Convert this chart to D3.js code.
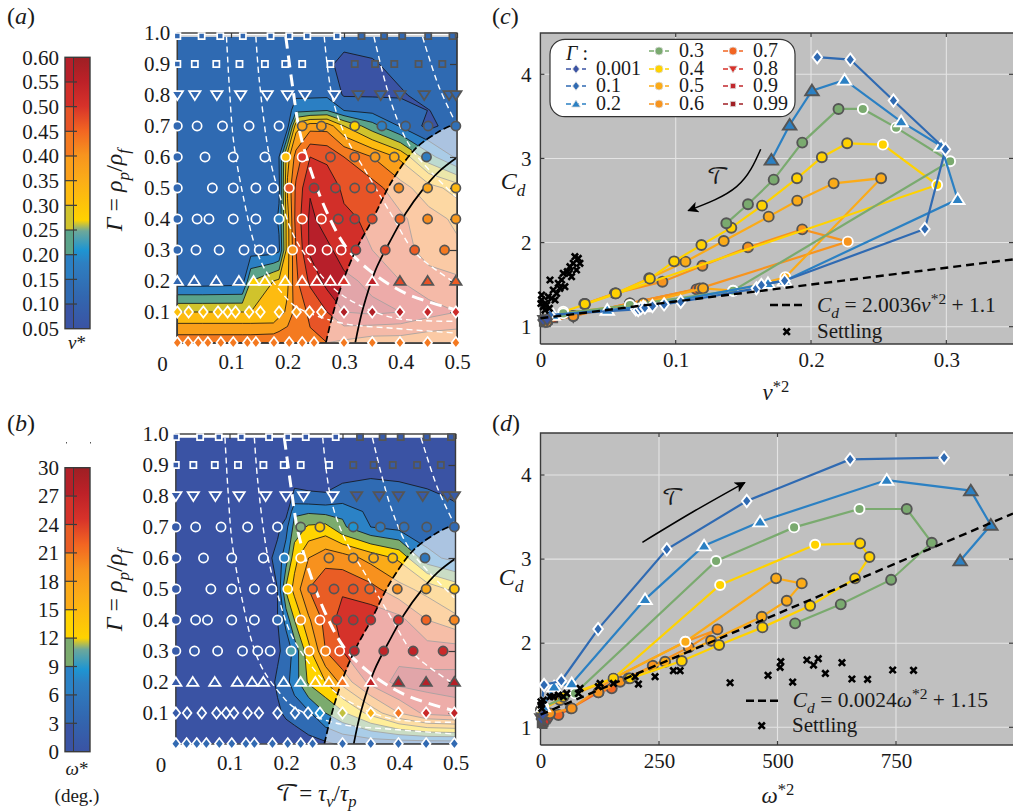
<!DOCTYPE html>
<html>
<head>
<meta charset="utf-8">
<title>Drag and rise velocity maps</title>
<script src="https://cdn.jsdelivr.net/npm/d3@7/dist/d3.min.js"></script>
<style>
  html, body { margin: 0; padding: 0; background: #fff; }
  svg { display: block; }
  text { font-family: "Liberation Serif", serif; fill: #1a1a1a; }
</style>
</head>
<body>
<svg id="fig" width="1013" height="811"></svg>
<script>
// ---- contour grids (a: v*, b: omega*) ----
const gridT = [.005,.05,.12,.135,.175,.185,.2,.215,.24,.27,.3,.35,.4,.45,.5];
const gridG = [.001,.1,.2,.3,.4,.5,.6,.7,.75,.8,.9,.99];
const gridV = [
  [.435,.435,.435,.435,.44,.44,.445,.44,.44,.45,.44,.42,.42,.41,.41],
  [.30,.30,.30,.30,.30,.33,.36,.42,.46,.50,.55,.56,.55,.52,.50],
  [.12,.12,.125,.25,.30,.31,.34,.44,.51,.57,.56,.54,.50,.47,.46],
  [.12,.12,.12,.125,.125,.14,.33,.45,.56,.56,.53,.50,.47,.43,.41],
  [.12,.12,.12,.12,.125,.16,.33,.47,.56,.53,.51,.49,.46,.42,.39],
  [.12,.12,.12,.12,.12,.14,.36,.46,.545,.53,.49,.47,.42,.37,.33],
  [.12,.12,.12,.12,.12,.15,.33,.42,.50,.49,.45,.40,.34,.22,.14],
  [.12,.12,.12,.12,.12,.12,.13,.33,.38,.38,.30,.22,.145,.085,.13],
  [.12,.12,.12,.12,.12,.12,.12,.185,.19,.20,.15,.135,.12,.099,.12],
  [.12,.12,.12,.12,.12,.12,.12,.14,.14,.14,.095,.095,.095,.115,.12],
  [.12,.12,.12,.12,.12,.12,.12,.12,.12,.11,.085,.095,.115,.12,.12],
  [.12,.12,.12,.12,.12,.12,.12,.12,.12,.12,.12,.12,.12,.12,.12]
];
const gridW = [
  [1,1,1,1,1,1,1,1.5,2,2.5,3.5,4,4,4,4],
  [1.5,1.5,1.5,1.5,2,2.5,3.5,4,5.5,9,11.5,16,21,25,26],
  [1.5,1.5,1.5,1.5,2.5,3.5,5,7.5,12.5,15,19,25,28,28,28],
  [1,1,1,1,1.5,2.5,4,7,14,21,24,27,26,25.5,25.5],
  [1.5,1.5,1.5,1.5,1.5,3,7,12,17.5,22,25.5,26,25,21,19],
  [1.5,1.5,1.5,1.5,1.5,3,12.5,16,21,23,23.5,22,19,17,14],
  [1.5,1.5,1.5,1.5,3,4.5,7.5,14,18,20,19.5,17,14.5,7,5],
  [1.5,1.5,1.5,1.5,1.5,2,5,10,12.5,13,9.5,6,5,4,3.5],
  [1.5,1.5,1.5,1.5,1.5,1.5,1.5,8.5,8.5,8,8.5,5,4.2,3.8,3.3],
  [1.5,1.5,1.5,1.5,1.5,1.5,1.5,3.5,3.3,3.2,3.7,3.9,3.6,3.3,2.8],
  [1.5,1.5,1.5,1.5,1.5,1.5,1.5,1.5,1.5,1.5,2,2.3,2.3,2,1.5],
  [1,1,1,1,1,1,1,1,1,1,1,1,1,1,1]
];
const levelsV = [.05,.10,.15,.20,.25,.30,.35,.40,.45,.50,.55];
const levelsW = [0,3,6,9,12,15,18,21,24,27];
const bandsV = ["#3a53a4","#2f6ab2","#2b7fc3","#5aa38a","#d0c32c","#fdbb10","#fa9f1a","#f47a20","#e75427","#d22f29","#b71f2a"];
const bandsW = ["#3a53a4","#2f6bb3","#2b82c6","#7bab6e","#ffd400","#fbab18","#f7911e","#e95d25","#d5322a","#b52028"];
const rampStops = [0,.12,.24,.29,.36,.40,.55,.64,.73,.82,.91,1];
const rampColors = ["#3a53a4","#3267b0","#2e7fc1","#1e95d2","#6da89a","#ffd200","#fbac18","#f7941e","#f26522","#d7322a","#bd2128","#9e1f24"];

// ---- experiments in the (T, Gamma) plane ----
const rowG = [.99,.9,.8,.7,.6,.5,.4,.3,.2,.1,.001];
const rowShape = ["square","square","triDown","circle","circle","circle","circle","circle","triUp","diamond","diamond"];
const rowDarkFrom = [8,8,8,5,6,6,8,10,12,99,99];
const rowT = [
  [.005,.048,.081,.121,.170,.203,.235,.288,.331,.371,.403,.449,.492],
  [.005,.036,.074,.115,.160,.196,.226,.276,.319,.355,.389,.432,.474],
  [.005,.036,.075,.117,.164,.200,.231,.283,.325,.365,.399,.442,.486,.498],
  [.005,.040,.085,.132,.185,.226,.260,.319,.367,.409,.449,.498],
  [.005,.054,.104,.160,.197,.226,.276,.319,.355,.389,.446],
  [.005,.067,.104,.144,.175,.203,.247,.285,.319,.348,.397,.448,.498],
  [.005,.040,.061,.104,.144,.185,.226,.260,.290,.319,.350,.399,.448,.498],
  [.005,.038,.079,.123,.150,.172,.209,.241,.270,.295,.321,.373,.425,.478],
  [.005,.035,.074,.114,.140,.160,.196,.226,.252,.276,.300,.350,.399,.448,.498],
  [.005,.025,.051,.077,.094,.108,.132,.152,.185,.216,.239,.260,.300,.350,.399,.448,.498],
  [.005,.024,.042,.059,.082,.104,.129,.144,.176,.203,.226,.247,.300,.350,.399,.448,.498]
];
const rowV = [
  [.12,.12,.12,.12,.12,.12,.12,.12,.12,.12,.12,.12,.12],
  [.12,.12,.12,.12,.12,.12,.12,.12,.12,.12,.12,.12,.12],
  [.12,.12,.12,.12,.12,.12,.12,.12,.12,.12,.12,.12,.12,.12],
  [.12,.12,.12,.12,.12,.37,.38,.27,.18,.14,.12,.14],
  [.12,.12,.12,.12,.31,.50,.47,.44,.39,.35,.17],
  [.12,.12,.12,.12,.12,.47,.53,.50,.47,.46,.41,.37,.33],
  [.12,.12,.12,.12,.12,.18,.47,.49,.50,.51,.48,.45,.41,.39],
  [.12,.12,.12,.12,.12,.12,.40,.52,.52,.52,.51,.48,.46,.43],
  [.12,.12,.12,.12,.27,.29,.31,.47,.52,.53,.50,.55,.48,.47,.46],
  [.31,.31,.31,.31,.31,.31,.31,.31,.33,.38,.42,.43,.57,.57,.56,.54,.52],
  [.43,.43,.43,.43,.43,.43,.43,.43,.43,.43,.43,.43,.43,.43,.43,.43,.43]
];
const rowW = [
  [1.5,1.5,1.5,1.5,1.5,1.5,1.5,1.5,1.5,1.5,1.5,1.5,1.5],
  [1.5,1.5,1.5,1.5,1.5,1.5,1.5,1.5,1.5,1.5,1.5,1.5,1.5],
  [1.5,1.5,1.5,1.5,1.5,1.5,1.5,1.5,1.5,1.5,1.5,1.5,1.5,1.5],
  [1.5,1.5,1.5,1.5,1.5,11,13,8.5,6,5,4.5,4],
  [1.5,1.5,1.5,1.5,7.5,17,19,18,16,14,6],
  [1.5,1.5,1.5,1.5,1.5,13,22,23,23,22,19.5,17,14],
  [1.5,1.5,1.5,1.5,1.5,4,19,22,26,26,26,25,22,20],
  [1.5,1.5,1.5,1.5,1.5,2,10,18,20,23,27,27,27,26],
  [1.5,1.5,1.5,1.5,1.5,2,5,10,14,17,21,27,28,28,28],
  [1.5,1.5,1.5,1.5,1.5,1.5,1.5,1.5,2.5,4.5,5.5,8.5,11.5,16,21,26,27],
  [4,4,4,4,4,4,4,4,4,4,4,4,4,4,4,4,4]
];

// curves over the maps, as [T, Gamma]
const blackDashT = [.268,.279,.297,.321,.350,.386,.427,.468,.498];
const blackDashG = [.001,.085,.193,.300,.397,.526,.628,.682,.709];
const blackSolidT = [.320,.333,.356,.386,.409,.439,.468,.498];
const blackSolidG = [.001,.107,.236,.343,.418,.494,.553,.596];
const whiteCurves = [
  {t:[.092,.097,.105,.123,.141,.159,.191,.215,.297,.391,.498], g:[.988,.827,.644,.461,.322,.241,.160,.117,.064,.047,.032]},
  {t:[.144,.150,.167,.185,.209,.238,.285,.333,.391,.498], g:[.988,.848,.612,.483,.354,.268,.171,.117,.080,.070]},
  {t:[.197,.209,.221,.241,.268,.303,.344,.409,.498], g:[.988,.827,.687,.558,.429,.311,.236,.160,.107], thick:true},
  {t:[.265,.279,.303,.344,.386,.427,.498], g:[.988,.795,.666,.537,.408,.289,.193]},
  {t:[.353,.386,.421,.498], g:[.988,.762,.623,.472]},
  {t:[.439,.468,.498], g:[.988,.827,.709]}
];

// ---- C_d scatter series ----
const seriesNames = ["0.001","0.1","0.2","0.3","0.4","0.5","0.6","0.7","0.8","0.9","0.99"];
const seriesColors = ["#3a53a4","#2f6ab2","#2b80c3","#7aaa6f","#ffd200","#fbab18","#f7941e","#f26522","#d7322a","#c1272d","#a01f24"];
const seriesShapes = ["diamond","diamond","triUp","circle","circle","circle","circle","circle","triDown","square","square"];

const cV = [
  [.002,.005],
  [.007,.0705,.0723,.0742,.0772,.0828,.0914,.1037,.1596,.1633,.1805,.2841,.2993,.2609,.229,.2046],
  [.0095,.0494,.076,.1682,.1805,.3084,.2961,.2666,.2248,.2007,.1842,.1707],
  [.0169,.0661,.1424,.3028,.2629,.2383,.2203,.1935,.1724,.1534,.1374],
  [.0169,.2932,.2531,.2267,.208,.1896,.1638,.1411,.119,.0988,.0809,.0558,.0329],
  [.0169,.0759,.1202,.1424,.181,.2518,.2167,.1898,.1687,.1355,.1072,.0804,.0558,.0329],
  [.0046,.0243,.0661,.1178,.2272,.1935,.1534,.1197,.0902,.055,.0324],
  [.0046,.0243,.0661,.1153,.1202],
  [.0034,.0071,.0243],
  [.0034,.01],
  [.002,.006]
];
const cCd = [
  [1.08,1.09],
  [1.14,1.206,1.198,1.218,1.226,1.246,1.266,1.297,1.456,1.495,1.547,2.161,3.109,3.688,4.175,4.203],
  [1.139,1.198,1.238,1.515,1.547,2.514,3.148,3.438,3.933,3.806,3.398,2.982],
  [1.158,1.258,1.428,2.966,3.366,3.588,3.588,3.188,2.748,2.455,2.229],
  [1.178,2.685,3.164,3.18,3.014,2.764,2.439,2.177,1.971,1.777,1.571,1.396,1.27],
  [1.158,1.277,1.456,1.428,1.587,2.764,2.704,2.498,2.308,2.019,1.773,1.575,1.396,1.27],
  [1.059,1.127,1.277,1.456,2.011,2.157,1.943,1.725,1.535,1.396,1.27],
  [1.059,1.127,1.277,1.444,1.456],
  [1.071,1.079,1.127],
  [1.06,1.09],
  [1.05,1.07]
];
const cDark = ["dd","wwwwwwwwwwwwwwww","wwwwwwwwwddd","wwwwwwddddd","wwwdddddddddd","dddwwddddddddd","ddddwdddddd","ddddd","ddd","dd","dd"];

const dW = [
  [2,5],
  [2.6,7.5,44,121.5,266.4,435.1,653.2,851.5],
  [6,28.6,65.9,220.6,345.1,463.3,730.5,907.8,950,885.3],
  [6,72.9,370.4,535,672.9,772.7,825.5,739.7,633.5,537.1],
  [1,48.3,153.8,378.9,579.3,674.3,694,663.7,568.8,468.2,376.8,298,189],
  [1,41.3,153.8,305.7,497,551.2,519.5,466.8,359.9,262.8,185.5],
  [20,65.9,153.8,305.7,373.3,312.8,236.8,167.9,122.2],
  [37.8,63.8,122.2,150.3],
  [3,9.6,14,20],
  [2,6,10,13],
  [1,4,6,8]
];
const dCd = [
  [1.1,1.15],
  [1.284,1.503,1.554,2.168,3.116,3.691,4.186,4.206],
  [1.245,1.483,1.522,2.521,3.159,3.445,3.94,3.814,3.405,2.981],
  [1.245,1.403,2.977,3.377,3.596,3.596,3.195,2.755,2.462,2.236],
  [1.205,1.364,1.582,2.692,3.171,3.187,3.025,2.771,2.446,2.188,1.978,1.788,1.582],
  [1.205,1.324,1.582,2.018,2.771,2.711,2.505,2.315,2.03,1.78,1.582],
  [1.166,1.225,1.582,2.018,2.164,1.95,1.732,1.542,1.415],
  [1.146,1.225,1.415,1.463],
  [1.1,1.106,1.09,1.126],
  [1.07,1.094,1.08,1.12],
  [1.04,1.066,1.03,1.05]
];
const dDark = ["dd","wwwwwwww","wwwwwwwddd","wwwwwddddd","dddwwdddddddd","ddwwddddddd","ddwwddddd","dddd","dddd","dddd","dddd"];

const settleCV = [.0009,.0021,.0046,.0058,.0034,.0083,.0095,.0071,.012,.0132,.0157,.0169,.0181,.0199,.0218,.023,.0243,.0255,.028,.0292,.0267,.0213,.0144,.0108,.0066,.0009,.0034,.0004];
const settleCCd = [1.317,1.238,1.258,1.357,1.277,1.337,1.436,1.555,1.396,1.515,1.555,1.634,1.476,1.654,1.713,1.595,1.753,1.832,1.812,1.753,1.674,1.634,1.456,1.317,1.218,1.377,1.198,1.277];
const settleDW = [400,480,505.5,507,532,562,576,586,601,636,657,690,743,787,294.5,280.4,241.7,206.6,199.5,153.8,125.7,122,83.5,80,55.4,48.3,20.2,6,1,1,2.6,27.2,37.8];
const settleDCd = [1.53,1.618,1.713,1.78,1.538,1.8,1.74,1.816,1.641,1.768,1.574,1.57,1.681,1.677,1.673,1.673,1.602,1.514,1.602,1.522,1.522,1.483,1.463,1.403,1.403,1.364,1.364,1.324,1.265,1.304,1.225,1.364,1.384];

const svg = d3.select("#fig");
const defs = svg.append("defs");
const frameColor = "#3b3b3b", darkEdge = "#555555";
const ramp = d3.scaleLinear().domain(rampStops).range(rampColors).clamp(true);

function rich(parent, x, y, parts, size, anchor) {
  const t = parent.append("text").attr("x", x).attr("y", y)
    .attr("font-size", size).attr("text-anchor", anchor || "start");
  let shift = 0;
  parts.forEach(p => {
    const s = t.append("tspan").text(p.t);
    if (p.i) s.attr("font-style", "italic");
    if (p.font) s.attr("font-family", p.font);
    let target = p.sub ? size * 0.28 : p.sup ? -size * 0.36 : 0;
    if (target !== shift) { s.attr("dy", target - shift); shift = target; }
    if (p.sub || p.sup) s.attr("font-size", size * 0.72);
  });
  return t;
}

const symbolPath = {
  circle: r => d3.symbol(d3.symbolCircle, Math.PI * r * r)(),
  square: r => d3.symbol(d3.symbolSquare, r * r * 2.4)(),
  diamond: r => `M0,${-r * 1.28}L${r * 1.0},0L0,${r * 1.28}L${-r * 1.0},0Z`,
  triUp: r => `M0,${-r * 1.15}L${r * 1.3},${r * 0.9}L${-r * 1.3},${r * 0.9}Z`,
  triDown: r => `M0,${r * 1.15}L${r * 1.3},${-r * 0.9}L${-r * 1.3},${-r * 0.9}Z`
};

function styleAxis(g, size) {
  g.select(".domain").remove();
  g.selectAll("line").attr("stroke", frameColor).attr("stroke-width", 1.2);
  g.selectAll("text").attr("font-size", size).attr("fill", "#1a1a1a")
    .attr("font-family", "Liberation Serif, serif");
}

// ---- colorbars ----
function colorbar(top, bottom, domain, levels, bands, fmt) {
  const g = svg.append("g");
  const y = d3.scaleLinear().domain(domain).range([bottom, top]);
  const edges = levels.concat([domain[1]]);
  bands.forEach((c, i) => {
    g.append("rect").attr("x", 65).attr("width", 8.5)
      .attr("y", y(edges[i + 1])).attr("height", y(edges[i]) - y(edges[i + 1])).attr("fill", c);
  });
  const id = "grad" + top;
  const lg = defs.append("linearGradient").attr("id", id)
    .attr("x1", 0).attr("x2", 0).attr("y1", 1).attr("y2", 0);
  rampStops.forEach((s, i) => lg.append("stop").attr("offset", s).attr("stop-color", rampColors[i]));
  g.append("rect").attr("x", 73.5).attr("width", 16.5).attr("y", top).attr("height", bottom - top)
    .attr("fill", `url(#${id})`);
  const ax = d3.axisLeft(y).tickValues(edges).tickFormat(fmt).tickSizeOuter(0).tickSizeInner(0).tickPadding(6);
  const ag = g.append("g").attr("transform", "translate(65,0)").call(ax);
  ag.select(".domain").remove();
  ag.selectAll("text").attr("font-size", 21).attr("fill", "#1a1a1a").attr("font-family", "Liberation Serif, serif");
  edges.slice(1, -1).forEach(v => {
    g.append("line").attr("x1", 65).attr("x2", 77).attr("y1", y(v)).attr("y2", y(v))
      .attr("stroke", frameColor).attr("stroke-width", 1.2);
  });
  g.append("rect").attr("x", 65).attr("y", top).attr("width", 25).attr("height", bottom - top)
    .attr("fill", "none").attr("stroke", frameColor).attr("stroke-width", 1.4);
  g.append("line").attr("x1", 73.5).attr("x2", 73.5).attr("y1", top).attr("y2", bottom)
    .attr("stroke", frameColor).attr("stroke-width", 1);
}
colorbar(57.3, 328.7, [.05, .60], levelsV, bandsV, d3.format(".2f"));
colorbar(467.7, 751.7, [0, 30], levelsW, bandsW, d3.format("d"));
rich(svg, 77, 349, [{t:"v", i:true},{t:"*"}], 19, "middle");
rich(svg, 77, 775, [{t:"ω", i:true},{t:"*"}], 19, "middle");
rich(svg, 77, 802, [{t:"(deg.)"}], 19, "middle");
[66, 90].forEach(x => svg.append("rect").attr("x", x).attr("y", 442).attr("width", 1).attr("height", 1.5).attr("fill", "#555"));

// ---- contour maps ----
function contourMap(x, y, grid, levels, bands, rowValues, color, top, bottom) {
  const g = svg.append("g");
  const toT = d3.scaleLinear().domain(gridT.map((_, i) => i + .5)).range(gridT).clamp(true);
  const toG = d3.scaleLinear().domain(gridG.map((_, i) => i + .5)).range(gridG).clamp(true);
  const proj = d3.geoTransform({ point(u, w) { this.stream.point(x(toT(u)), y(toG(w))); } });
  const path = d3.geoPath(proj);
  const polys = d3.contours().size([gridT.length, gridG.length]).thresholds(levels)(grid.flat());
  g.selectAll("path.band").data(polys).join("path").attr("class", "band")
    .attr("d", path).attr("fill", (d, i) => bands[i])
    .attr("stroke", (d, i) => i === 0 ? "none" : "#111").attr("stroke-width", .8);

  // white veil beyond the dashed curve
  const line = d3.line().x(d => x(d[0])).y(d => y(d[1]));
  const veil = d3.zip(blackDashT, blackDashG).concat([[.5, .709], [.5, .001]]);
  g.append("path").attr("d", line(veil) + "Z").attr("fill", "#fff").attr("fill-opacity", .6);

  const curve = line.curve(d3.curveCatmullRom);
  whiteCurves.forEach(c => {
    g.append("path").attr("d", curve(d3.zip(c.t, c.g))).attr("fill", "none").attr("stroke", "#fff")
      .attr("stroke-width", c.thick ? 3 : 1.4).attr("stroke-dasharray", c.thick ? "12,7" : "6,4");
  });
  g.append("path").attr("d", curve(d3.zip(blackSolidT, blackSolidG))).attr("fill", "none")
    .attr("stroke", "#000").attr("stroke-width", 1.7);
  g.append("path").attr("d", curve(d3.zip(blackDashT, blackDashG))).attr("fill", "none")
    .attr("stroke", "#000").attr("stroke-width", 1.7).attr("stroke-dasharray", "7,3");
  g.append("line").attr("x1", x(.005)).attr("x2", x(.5)).attr("y1", y(.99)).attr("y2", y(.99))
    .attr("stroke", "#fff").attr("stroke-width", 1.2);

  // frame and axes
  const left = x(.005), right = x(.5);
  g.append("rect").attr("x", left).attr("y", top).attr("width", right - left).attr("height", bottom - top)
    .attr("fill", "none").attr("stroke", frameColor).attr("stroke-width", 1.4);
  const yTicks = [.1,.2,.3,.4,.5,.6,.7,.8,.9,1];
  const xTicks = [.1,.2,.3,.4,.5];
  g.append("g").attr("transform", `translate(${left},0)`)
    .call(d3.axisLeft(y).tickValues(yTicks).tickFormat(d3.format(".1f")).tickSizeInner(0).tickSizeOuter(0).tickPadding(7))
    .call(s => styleAxis(s, 21));
  g.append("g").attr("transform", `translate(${right},0)`)
    .call(d3.axisRight(y).tickValues(yTicks).tickFormat("").tickSizeInner(-7).tickSizeOuter(0))
    .call(s => styleAxis(s, 21));
  g.append("g").attr("transform", `translate(0,${top})`)
    .call(d3.axisTop(x).tickValues(xTicks).tickFormat("").tickSizeInner(-5).tickSizeOuter(0))
    .call(s => styleAxis(s, 21));
  g.append("g").attr("transform", `translate(0,${bottom})`)
    .call(d3.axisBottom(x).tickValues(xTicks).tickFormat(d3.format(".1f")).tickSizeInner(0).tickSizeOuter(0).tickPadding(11))
    .call(s => styleAxis(s, 21));
  g.append("text").attr("x", x(0) - 12).attr("y", bottom + 28).attr("font-size", 21).attr("text-anchor", "middle").text("0");

  // experiment markers
  rowG.forEach((gamma, r) => {
    const shape = rowShape[r];
    const rad = shape === "square" ? 4 : shape === "circle" ? 4.6 : shape === "diamond" ? 4.4 : 4.4;
    g.selectAll(null).data(d3.zip(rowT[r], rowValues[r])).join("path")
      .attr("transform", d => `translate(${x(d[0])},${y(gamma)})`)
      .attr("d", symbolPath[shape](rad))
      .attr("fill", d => color(d[1]))
      .attr("stroke", (d, i) => i >= rowDarkFrom[r] ? darkEdge : "#fff")
      .attr("stroke-width", 1.7);
  });
}
const colorV = v => ramp((v - .05) / .55);
const colorW = w => ramp(w / 30);
const yA = d3.scaleLinear().domain([0, 1]).range([343, 33]);
const yB = d3.scaleLinear().domain([0, 1]).range([744, 434]);
const xA = d3.scaleLinear().domain([0, .5]).range([174.5, 457]);
const xB = d3.scaleLinear().domain([0, .5]).range([173, 455.5]);
contourMap(xA, yA, gridV, levelsV, bandsV, rowV, colorV, 33, 343);
contourMap(xB, yB, gridW, levelsW, bandsW, rowW, colorW, 434, 744);

const gammaLabel = [{t:"Γ", i:true},{t:" = "},{t:"ρ", i:true},{t:"p", i:true, sub:true},{t:"/"},{t:"ρ", i:true},{t:"f", i:true, sub:true}];
rich(svg, 0, 0, gammaLabel, 24, "middle").attr("transform", "translate(122,190) rotate(-90)");
rich(svg, 0, 0, gammaLabel, 24, "middle").attr("transform", "translate(122,590) rotate(-90)");
const scriptT = "DejaVu Math TeX Gyre, Noto Sans, serif";
rich(svg, 316, 801, [{t:"𝒯", font:scriptT},{t:"= "},{t:"τ", i:true},{t:"v", i:true, sub:true},{t:"/"},{t:"τ", i:true},{t:"p", i:true, sub:true}], 23, "middle");

// ---- scatter panels ----
function scatterPanel(x, y, xsData, ysData, flags, xTicks, xFmt, setX, setY, fit, top, bottom, right) {
  const g = svg.append("g");
  const left = x(0);
  g.append("rect").attr("x", left).attr("y", top).attr("width", right - left).attr("height", bottom - top).attr("fill", "#c0c0c0");
  xTicks.filter(v => v > 0).forEach(v => g.append("line").attr("x1", x(v)).attr("x2", x(v)).attr("y1", top).attr("y2", bottom).attr("stroke", "#e4e4e4").attr("stroke-width", 1.1));
  [1,2,3,4].forEach(v => g.append("line").attr("x1", left).attr("x2", right).attr("y1", y(v)).attr("y2", y(v)).attr("stroke", "#e4e4e4").attr("stroke-width", 1.1));
  g.append("path").attr("d", `M${left},${bottom}V${top}H${right}`).attr("fill", "none").attr("stroke", frameColor).attr("stroke-width", 1.4);
  g.append("path").attr("d", `M${left},${bottom}H${right}`).attr("fill", "none").attr("stroke", frameColor).attr("stroke-width", 1.4);
  g.append("g").attr("transform", `translate(${left},0)`)
    .call(d3.axisLeft(y).tickValues([1,2,3,4]).tickFormat(d3.format("d")).tickSizeInner(0).tickSizeOuter(0).tickPadding(9))
    .call(s => styleAxis(s, 21));
  g.append("g").attr("transform", `translate(0,${bottom})`)
    .call(d3.axisBottom(x).tickValues(xTicks).tickFormat(xFmt).tickSizeInner(0).tickSizeOuter(0).tickPadding(8))
    .call(s => styleAxis(s, 21));
  xTicks.filter(v => v > 0).forEach(v => {
    g.append("line").attr("x1", x(v)).attr("x2", x(v)).attr("y1", bottom).attr("y2", bottom - 4).attr("stroke", frameColor).attr("stroke-width", 1.2);
    g.append("line").attr("x1", x(v)).attr("x2", x(v)).attr("y1", top).attr("y2", top + 4).attr("stroke", frameColor).attr("stroke-width", 1.2);
  });
  [1,2,3,4].forEach(v => {
    g.append("line").attr("x1", left).attr("x2", left + 4).attr("y1", y(v)).attr("y2", y(v)).attr("stroke", frameColor).attr("stroke-width", 1.2);
    g.append("line").attr("x1", right).attr("x2", right - 4).attr("y1", y(v)).attr("y2", y(v)).attr("stroke", frameColor).attr("stroke-width", 1.2);
  });

  const line = d3.line().x(d => x(d[0])).y(d => y(d[1]));
  for (let s = seriesNames.length - 1; s >= 0; s--) {
    const pts = d3.zip(xsData[s], ysData[s]);
    g.append("path").attr("d", line(pts)).attr("fill", "none").attr("stroke", seriesColors[s]).attr("stroke-width", 2.2);
    const shape = seriesShapes[s];
    const rad = shape === "circle" ? 5 : shape === "diamond" ? 4.8 : shape === "square" ? 4.2 : 5.2;
    g.selectAll(null).data(pts).join("path")
      .attr("transform", d => `translate(${x(d[0])},${y(d[1])})`)
      .attr("d", symbolPath[shape](rad))
      .attr("fill", seriesColors[s])
      .attr("stroke", (d, i) => flags[s][i] === "w" ? "#fff" : darkEdge)
      .attr("stroke-width", 1.9);
  }
  // fit line, from its printed slope and intercept
  const xEnd = x.invert(right);
  g.append("path").attr("d", line([[0, fit[1]], [xEnd, fit[0] * xEnd + fit[1]]]))
    .attr("fill", "none").attr("stroke", "#000").attr("stroke-width", 2.4).attr("stroke-dasharray", "8,5");
  g.selectAll(null).data(d3.zip(setX, setY)).join("path")
    .attr("transform", d => `translate(${x(d[0])},${y(d[1])})`)
    .attr("d", d3.symbol(d3.symbolTimes, 28)()).attr("fill", "none").attr("stroke", "#000").attr("stroke-width", 2.6);
  return g;
}
const xC = d3.scaleLinear().domain([0, .35]).range([540.4, 1014]);
const yC = d3.scaleLinear().domain([1, 4]).range([326.7, 74.3]);
const xD = d3.scaleLinear().domain([0, 1000]).range([540.5, 1014.5]);
const yD = d3.scaleLinear().domain([1, 4]).range([727.3, 475]);
const gC = scatterPanel(xC, yC, cV, cCd, cDark, [0,.1,.2,.3], d => d === 0 ? "0" : d3.format(".1f")(d), settleCV, settleCCd, [2.0036, 1.1], 33, 344, 1013);
const gD = scatterPanel(xD, yD, dW, dCd, dDark, [0,250,500,750], d3.format("d"), settleDW, settleDCd, [.0024, 1.15], 433, 745, 1013);

// legend of panel c
const legend = gC.append("g");
legend.append("rect").attr("x", 550).attr("y", 39.3).attr("width", 245).attr("height", 77.4).attr("rx", 15)
  .attr("fill", "#fff").attr("stroke", "#333").attr("stroke-width", 1.2);
rich(legend, 566, 60, [{t:"Γ", i:true},{t:" :"}], 20);
const legendCol = [0,1,1,1,2,2,2,2,3,3,3,3];
const legendRow = [0,1,2,3,0,1,2,3,0,1,2,3];
const legendX = [0,576,659,733];
const legendY = [57,75,92,110];
seriesNames.forEach((name, i) => {
  const lx = legendX[legendCol[i + 1]], ly = legendY[legendRow[i + 1]];
  legend.append("line").attr("x1", lx - 10).attr("x2", lx + 10).attr("y1", ly - 6).attr("y2", ly - 6)
    .attr("stroke", seriesColors[i]).attr("stroke-width", 1.5).attr("stroke-dasharray", "5,3");
  legend.append("path").attr("transform", `translate(${lx},${ly - 6})`)
    .attr("d", symbolPath[seriesShapes[i]](seriesShapes[i] === "circle" ? 4 : 3.4))
    .attr("fill", seriesColors[i]).attr("stroke", "#ddd").attr("stroke-width", .8);
  legend.append("text").attr("x", lx + 20).attr("y", ly).attr("font-size", 20).text(name);
});

// key, labels and arrows
function key(g, x0, x1, y0, tx, ty, eq, mx, my, stx, sty) {
  g.append("line").attr("x1", x0).attr("x2", x1).attr("y1", y0).attr("y2", y0)
    .attr("stroke", "#000").attr("stroke-width", 2.4).attr("stroke-dasharray", "8,4");
  rich(g, tx, ty, eq, 21.5);
  g.append("path").attr("transform", `translate(${mx},${my})`).attr("d", d3.symbol(d3.symbolTimes, 28)())
    .attr("fill", "none").attr("stroke", "#000").attr("stroke-width", 2.6);
  rich(g, stx, sty, [{t:"Settling"}], 21);
}
key(gC, 770, 803, 305, 817, 312,
  [{t:"C", i:true},{t:"d", i:true, sub:true},{t:" = 2.0036"},{t:"v", i:true},{t:"*2", sup:true},{t:" + 1.1"}],
  786.7, 331.7, 817, 338);
key(gD, 746, 778, 700.7, 792.7, 707,
  [{t:"C", i:true},{t:"d", i:true, sub:true},{t:" = 0.0024"},{t:"ω", i:true},{t:"*2", sup:true},{t:" + 1.15"}],
  761.7, 725.7, 792, 732);

rich(svg, 513, 189, [{t:"C", i:true},{t:"d", i:true, sub:true}], 24, "middle");
rich(svg, 511, 585, [{t:"C", i:true},{t:"d", i:true, sub:true}], 24, "middle");
rich(svg, 776, 400, [{t:"v", i:true},{t:"*2", sup:true}], 23, "middle");
rich(svg, 778, 803, [{t:"ω", i:true},{t:"*2", sup:true}], 23, "middle");

defs.append("marker").attr("id", "head").attr("viewBox", "0 0 10 10").attr("refX", 9).attr("refY", 5)
  .attr("markerWidth", 13).attr("markerHeight", 11).attr("markerUnits", "userSpaceOnUse").attr("orient", "auto")
  .append("path").attr("d", "M0,0L10,5L0,10L2.5,5Z").attr("fill", "#000");
const curved = d3.line().curve(d3.curveNatural);
gC.append("path").attr("d", curved([[xC(.1628), yC(3.11)], [xC(.145), yC(2.665)], [xC(.1093), yC(2.38)]]))
  .attr("fill", "none").attr("stroke", "#000").attr("stroke-width", 1.5).attr("marker-end", "url(#head)");
gD.append("path").attr("d", curved([[xD(215), yD(3.2)], [xD(322), yD(3.563)], [xD(431), yD(3.91)]]))
  .attr("fill", "none").attr("stroke", "#000").attr("stroke-width", 1.5).attr("marker-end", "url(#head)");
rich(svg, 718, 184, [{t:"𝒯", font:scriptT}], 22, "middle");
rich(svg, 673, 505, [{t:"𝒯", font:scriptT}], 22, "middle");

// panel letters
[["a",7,24],["b",7,431],["c",492,24],["d",492,431]].forEach(p => {
  rich(svg, p[1], p[2], [{t:"("},{t:p[0], i:true},{t:")"}], 24);
});
</script>
</body>
</html>
